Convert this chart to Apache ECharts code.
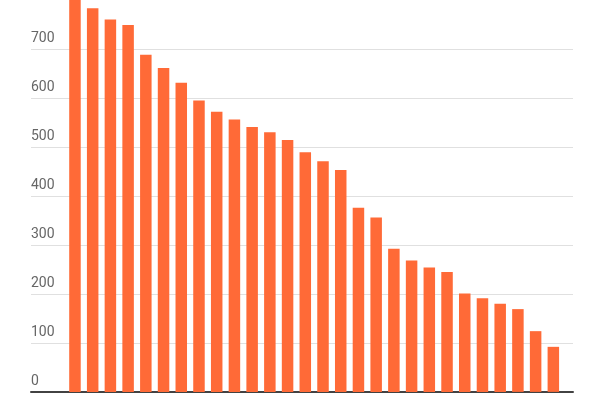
<!DOCTYPE html>
<html>
<head>
<meta charset="utf-8">
<script src="https://cdn.jsdelivr.net/npm/echarts@6/dist/echarts.min.js"></script>
<style>
  html, body { margin: 0; padding: 0; background: #fff; }
  #chart { width: 600px; height: 400px; }
</style>
</head>
<body>
<div id="chart"></div>
<script>
// categories (labels sit below the visible area in the reference)
const categories = ['1', '2', '3', '4', '5', '6', '7', '8', '9', '10', '11', '12', '13', '14',
  '15', '16', '17', '18', '19', '20', '21', '22', '23', '24', '25', '26', '27', '28'];
// bar values
const values = [800, 783, 760, 749, 688, 661, 631, 595, 572, 556, 541, 530, 514, 489,
  471, 453, 376, 356, 292, 268, 254, 245, 201, 191, 180, 169, 124, 92];
// y axis ticks
const yMin = 0;
const yMax = 800;
const yStep = 100;

const chart = echarts.init(document.getElementById('chart'));

const option = {
  animation: false,
  grid: [
    // full width grid: gridlines, labels, baseline
    {left: 31, right: 27, top: -1.1, bottom: 8.1},
    // bars
    {left: 66.1, right: 37.8, top: -1.1, bottom: 8.1}
  ],
  xAxis: [
    {
      gridIndex: 0,
      type: 'category',
      data: categories,
      axisLine: {show: true, lineStyle: {color: '#424242', width: 2}},
      axisTick: {show: false},
      axisLabel: {show: false}
    },
    {
      gridIndex: 1,
      type: 'category',
      data: categories,
      axisLine: {show: false},
      axisTick: {show: false},
      axisLabel: {show: false}
    }
  ],
  yAxis: [
    {
      gridIndex: 0,
      type: 'value',
      min: yMin,
      max: yMax,
      interval: yStep,
      axisLine: {show: false},
      axisTick: {show: false},
      splitLine: {showMaxLine: false, lineStyle: {color: '#e0e0e0', width: 1}},
      axisLabel: {
        inside: true,
        margin: 0,
        showMaxLabel: false,
        color: '#666666',
        fontFamily: 'Roboto',
        fontSize: 14,
        verticalAlign: 'bottom',
        padding: [0, 0, 3, 0]
      }
    },
    {
      gridIndex: 1,
      type: 'value',
      min: yMin,
      max: yMax,
      interval: yStep,
      show: false
    }
  ],
  series: [
    {
      type: 'bar',
      xAxisIndex: 1,
      yAxisIndex: 1,
      data: values,
      barWidth: 11.5,
      itemStyle: {color: '#ff6a37'}
    }
  ]
};

chart.setOption(option);
</script>
</body>
</html>
